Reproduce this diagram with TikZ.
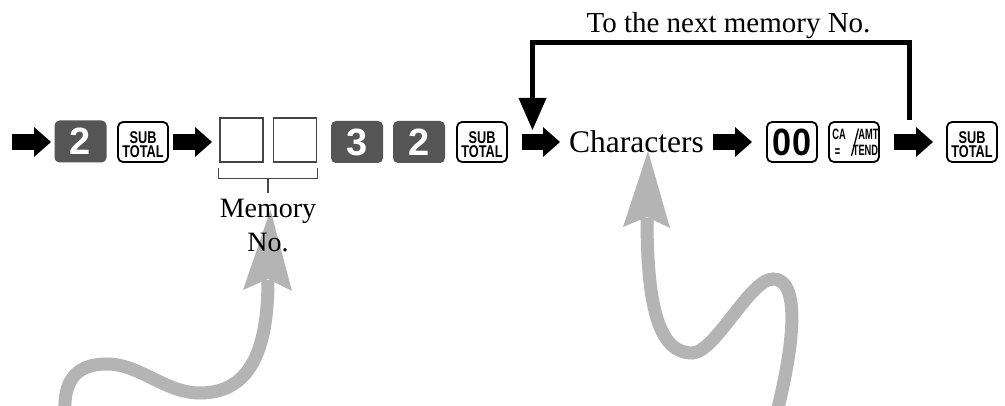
\documentclass[tikz,border=0pt]{standalone}
\usepackage{fontspec}
\setmainfont{Liberation Serif}
\newfontfamily\keysans{Liberation Sans}
\newfontfamily\keynarrow[FakeStretch=0.75]{Liberation Sans}
\newfontfamily\keydouble[FakeStretch=0.9]{Liberation Sans}
\newfontfamily\keytiny[FakeStretch=0.62]{Liberation Sans}
\usetikzlibrary{arrows.meta,calc}

\definecolor{keygray}{RGB}{85,85,85}
\definecolor{swoosh}{RGB}{180,180,180}
\definecolor{boxline}{RGB}{70,70,70}

\begin{document}
\begin{tikzpicture}[x=1pt,y=-1pt,
  darkkey/.style={rounded corners=5pt, fill=keygray, minimum width=52pt,
    minimum height=42pt, inner sep=0pt, text=white,
    font=\keysans\bfseries\fontsize{38}{38}\selectfont},
  whitekey/.style={draw, line width=1.8pt, rounded corners=5pt, fill=white,
    minimum width=50pt, minimum height=40pt, inner sep=0pt},
  entrybox/.style={draw=boxline, line width=1.2pt, minimum width=43pt,
    minimum height=44pt, inner sep=0pt},
  subtext/.style={inner sep=0pt, anchor=north, align=center,
    font=\keynarrow\bfseries\fontsize{17}{13.5}\selectfont},
  tinytext/.style={inner sep=0pt, anchor=base,
    font=\keytiny\bfseries\fontsize{15}{15}\selectfont},
  flowarrow/.style={line width=16pt, -{Triangle[length=17pt,width=30pt,line width=0pt]}},
  loopline/.style={line width=5pt, -{Triangle[length=32pt,width=28pt,line width=0pt]}},
  bracket/.style={draw=boxline, line width=1.2pt},
  swooshline/.style={draw=swoosh, line width=13pt},
  swooshhead/.style={fill=swoosh},
  serif/.style={inner sep=0pt, font=\fontsize{#1}{#1}\selectfont}
]
\fill[white] (0,0) rectangle (1005,406);
\useasboundingbox (0,0) rectangle (1005,406);

% grey curved pointers
\draw[swooshline] (65,412) .. controls (63,372) and (85,364) .. (107,364)
  .. controls (140,364) and (165,393) .. (200,393)
  .. controls (250,393) and (268,350) .. (268,280);
\fill[swooshhead] (270.5,210) -- (292,291) -- (268,279) -- (243,290) -- cycle;

\draw[swooshline] (777,412) .. controls (795,340) and (800,279) .. (773,279)
  .. controls (750,279) and (715,353) .. (692,353)
  .. controls (660,353) and (647,310) .. (647,218);
\fill[swooshhead] (648,151) -- (670,228) -- (647,217) -- (623,227) -- cycle;

% keys
\node[darkkey] (k1) at (80.5,141.5) {2};
\node[whitekey] (k2) at (143,142) {};
\node[subtext] (k2t) at (143,131.6) {SUB\\TOTAL};

\node[entrybox] (b1) at (241.5,140) {};
\node[entrybox] (b2) at (295,140) {};

\node[darkkey] (k3) at (357,142) {3};
\node[darkkey] (k4) at (419,142) {2};
\node[whitekey] (k5) at (482,142) {};
\node[subtext] (k5t) at (482,131.6) {SUB\\TOTAL};

\node[whitekey, font=\keydouble\bfseries\fontsize{38}{38}\selectfont] (k6) at (792,142) {00};

\node[whitekey] (k7) at (854,142) {};
\node[tinytext] (ca) at (839,140) {CA};
\node[tinytext] (amt) at (868.5,140) {AMT};
\node[tinytext] (eq) at (837.5,156.5) {=};
\node[tinytext] (tend) at (865.5,156) {TEND};
\draw[line width=1.3pt] (851.5,156) -- (858.5,128.5);

\node[whitekey] (k8) at (972,142) {};
\node[subtext] (k8t) at (972,131.6) {SUB\\TOTAL};

% bracket under the two entry boxes
\coordinate (brl) at (218.5,168);
\coordinate (brr) at (317.5,168);
\coordinate (brm) at (268,178.5);
\coordinate (brt) at (268,193);
\draw[bracket] (brl) -- (brl |- brm) -- (brr |- brm) -- (brr);
\draw[bracket] (brm) -- (brt);

% texts
\node[serif=28, align=center, anchor=north, font=\fontsize{28}{34}\selectfont] (mem) at (268,199) {Memory\\No.};
\node[serif=31.5, anchor=base west] (chars) at (569,153) {Characters};
\node[serif=29, anchor=base] (nextlbl) at (728.5,32.3) {To the next memory No.};

% block arrows of the key sequence
\coordinate (a1s) at (12,142);  \coordinate (a1e) at (51,142);
\coordinate (a2s) at (173,142); \coordinate (a2e) at (212,142);
\coordinate (a3s) at (522,142); \coordinate (a3e) at (560,142);
\coordinate (a4s) at (713,142); \coordinate (a4e) at (752,142);
\coordinate (a5s) at (894,142); \coordinate (a5e) at (933,142);
\foreach \n in {1,...,5} \draw[flowarrow] (a\n s) -- (a\n e);

% return loop
\coordinate (loopstart) at (909.5,120);
\coordinate (looptop) at (0,42.5);
\coordinate (loopend) at (532.5,130);
\draw[loopline] (loopstart) -- (loopstart |- looptop) -- (loopend |- looptop) -- (loopend);
\end{tikzpicture}
\end{document}
